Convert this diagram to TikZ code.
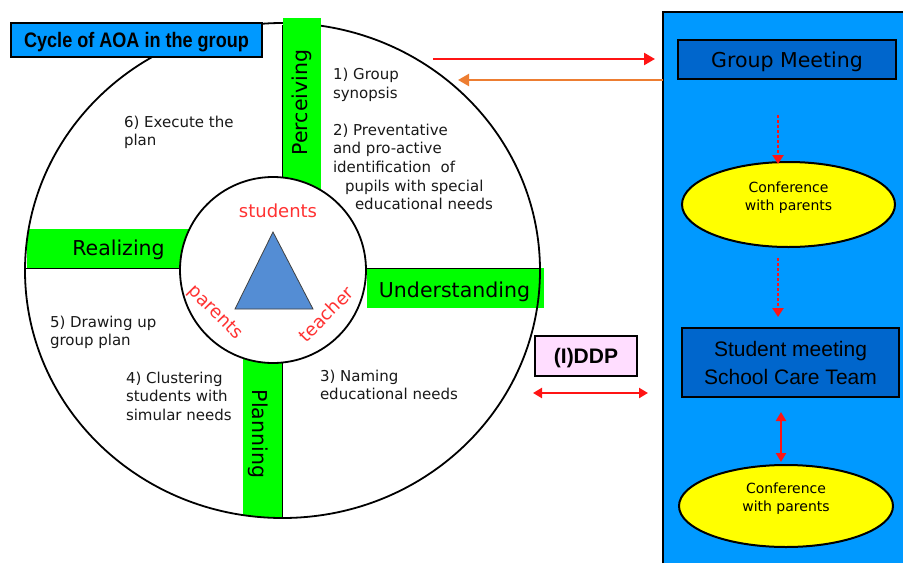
\documentclass[tikz,border=0pt]{standalone}
\usepackage{fontspec}
\setmainfont{DejaVu Sans}
\newfontfamily\arialfont{Liberation Sans}
\newfontfamily\titlefont[FakeStretch=0.86]{Liberation Sans}
\usetikzlibrary{shapes.geometric,arrows.meta}
\definecolor{bandgreen}{RGB}{0,255,0}
\definecolor{panelblue}{RGB}{0,153,255}
\definecolor{boxblue}{RGB}{0,102,204}
\definecolor{trifill}{RGB}{84,141,212}
\definecolor{lblred}{RGB}{255,50,50}
\definecolor{arrred}{RGB}{255,20,20}
\definecolor{arrorange}{RGB}{237,125,49}
\definecolor{ddppink}{RGB}{255,221,255}
\definecolor{elyellow}{RGB}{255,255,0}
\begin{document}
\begin{tikzpicture}[x=1pt,y=-1pt,
  every node/.style={inner sep=0pt, outer sep=0pt},
  qtext/.style={anchor=north west, align=left, font=\fontsize{15}{18.7}\selectfont, text=black!90},
  bandbox/.style={fill=bandgreen, draw=none},
  bandlbl/.style={font=\fontsize{20.5}{24}\selectfont, text=black},
  divline/.style={line width=1.8pt, black},
  redlbl/.style={font=\fontsize{18}{22}\selectfont, text=lblred},
  bluebox/.style={fill=boxblue, draw=black, line width=2pt},
  confell/.style={ellipse, fill=elyellow, draw=black, line width=2pt},
  conftext/.style={align=center, font=\fontsize{14}{18}\selectfont, text=black},
  redarr/.style={draw=arrred, line width=2.5pt, -{Triangle[length=11pt,width=12pt]}},
  orangearr/.style={draw=arrorange, line width=2.2pt, -{Triangle[length=11pt,width=12pt]}},
  dotarr/.style={draw=arrred, line width=2.5pt, dash pattern=on 2.5pt off 2.5pt, -{Triangle[length=9pt,width=11pt]}},
  dblarr/.style={draw=arrred, line width=2.5pt, {Triangle[length=9pt,width=10pt]}-{Triangle[length=9pt,width=10pt]}}
]
\useasboundingbox (0,0) rectangle (903,563);

% right panel
\node[fill=panelblue, minimum width=240pt, minimum height=551pt, anchor=north west] (panel) at (663,12) {};
\draw[line width=2.8pt] (panel.south west) -- (panel.north west) -- (panel.north east);

% outer wheel
\node[ellipse, fill=white, minimum width=515pt, minimum height=495pt] (outer) at (282.5,270.5) {};
\begin{scope}
  \clip (282.5,270.5) ellipse [x radius=257.5, y radius=247.5];
  \node[bandbox, minimum width=163pt, minimum height=39pt] (realband) at (108.5,248.5) {};
  \node[bandbox, minimum width=40pt, minimum height=168pt] (planband) at (263,436) {};
\end{scope}
\node[bandbox, minimum width=177pt, minimum height=40pt] (undband) at (455.5,288) {};
\draw[divline] (25,268.5) -- (190,268.5);
\draw[divline] (355,268.5) -- (541,268.5);
\draw[divline] (282.5,355) -- (282.5,518);
\draw[line width=1.8pt] (282.5,270.5) ellipse [x radius=257.5, y radius=247.5];
\node[bandbox, minimum width=38pt, minimum height=172pt] (percband) at (302,104) {};
\draw[divline] (282.5,25) -- (282.5,185);

% inner circle
\node[circle, draw=black, fill=white, line width=1.8pt, minimum size=186pt] (inner) at (273,270) {};
\draw[draw=black!75, fill=trifill, line width=0.8pt] (273,232) -- (313,309) -- (235,309) -- cycle;
\node[redlbl] (lstud) at (278,211) {students};
\node[redlbl, rotate=-45] (lpar) at (215,313) {parents};
\node[redlbl, rotate=45] (lteach) at (326,314) {teacher};

% band labels
\node[bandlbl, rotate=90] (perclbl) at (302,102.5) {Perceiving};
\node[bandlbl] (reallbl) at (118.5,249.6) {Realizing};
\node[bandlbl] (undlbl) at (454.5,291.6) {Understanding};
\node[bandlbl, rotate=-90] (planlbl) at (258,434) {Planning};

% quadrant texts
\node[qtext] (q1a) at (333,68.6) {1) Group\\synopsis};
\node[qtext] (q1b) at (333,123.6) {2) Preventative\\and pro-active\\identification\ \ of\\\hspace*{12pt}pupils with special\\\hspace*{22pt}educational needs};
\node[qtext] (q6) at (124,115.6) {6) Execute the\\plan};
\node[qtext] (q5) at (50,315.6) {5) Drawing up\\group plan};
\node[qtext] (q4) at (126,371.6) {4) Clustering\\students with\\simular needs};
\node[qtext] (q3) at (320,369.6) {3) Naming\\educational needs};

% title
\node[fill=panelblue, draw=black, line width=2pt, minimum width=251pt, minimum height=34pt,
      font=\titlefont\bfseries\fontsize{21}{24}\selectfont, text height=15pt, text depth=0pt] (title) at (136.5,40) {Cycle of AOA in the group};

% right side boxes
\node[bluebox, minimum width=218pt, minimum height=39pt, font=\fontsize{20.5}{24}\selectfont, text height=15pt, text depth=0pt] (gm) at (787,59.5) {Group Meeting};
\node[confell, minimum width=213pt, minimum height=85pt] (c1) at (788.5,204.5) {};
\node[conftext] (c1t) at ([yshift=6.6pt]c1.center) {Conference\\with parents};
\node[bluebox, minimum width=217pt, minimum height=69pt, align=center, font=\arialfont\fontsize{21}{28}\selectfont] (sm) at (790.5,362.5) {Student meeting\\School Care Team};
\node[confell, minimum width=214pt, minimum height=82pt] (c2) at (786,506) {};
\node[conftext] (c2t) at ([yshift=7pt]c2.center) {Conference\\with parents};
\node[fill=ddppink, draw=black, line width=2.2pt, minimum width=102pt, minimum height=40pt,
      font=\arialfont\bfseries\fontsize{21}{24}\selectfont, text height=15pt, text depth=0pt] (ddp) at (586,356) {(I)DDP};

% connectors
\coordinate (r1s) at (433,59);
\coordinate (r1e) at (655,59);
\draw[redarr] (r1s) -- (r1e);
\coordinate (o1s) at (663,80);
\coordinate (o1e) at (458,80);
\draw[orangearr] (o1s) -- (o1e);
\coordinate (d1s) at (778,115);
\coordinate (d1e) at (778,164);
\draw[dotarr] (d1s) -- (d1e);
\coordinate (d2s) at (778,258);
\coordinate (d2e) at (778,317);
\draw[dotarr] (d2s) -- (d2e);
\coordinate (v1s) at (781,412);
\coordinate (v1e) at (781,462);
\draw[dblarr] (v1s) -- (v1e);
\coordinate (h1s) at (533,393);
\coordinate (h1e) at (648,393);
\draw[dblarr] (h1s) -- (h1e);
\end{tikzpicture}
\end{document}
